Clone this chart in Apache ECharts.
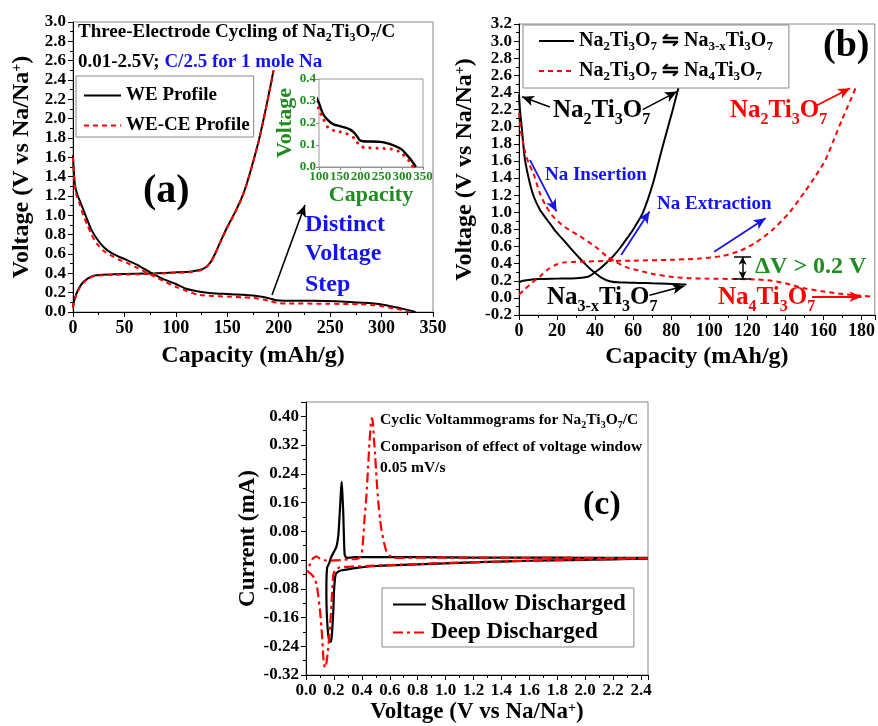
<!DOCTYPE html>
<html>
<head>
<meta charset="utf-8">
<script src="https://cdn.jsdelivr.net/npm/echarts@6/dist/echarts.min.js"></script>
<style>
  html, body { margin: 0; padding: 0; background: #fff; }
  #chart { width: 878px; height: 726px; }
</style>
</head>
<body>
<div id="chart"></div>
<script>
// ---------- (a) three-electrode cycling: WE and WE-CE profiles ----------
const weDisCap = [0, 1, 2, 4, 7, 10, 14, 18, 23, 30, 36, 45, 52, 62, 75, 88, 100, 110, 122, 135, 150, 165, 175, 185, 192, 198, 205, 220, 247, 265, 287, 300, 311, 320, 327, 333];
const weDisV   = [1.62, 1.42, 1.31, 1.22, 1.14, 1.06, 0.95, 0.85, 0.76, 0.67, 0.62, 0.57, 0.54, 0.49, 0.41, 0.34, 0.29, 0.24, 0.212, 0.194, 0.186, 0.178, 0.170, 0.155, 0.138, 0.122, 0.117, 0.116, 0.114, 0.107, 0.092, 0.078, 0.055, 0.035, 0.017, 0.0];
const weChgCap = [0, 1, 3, 6, 10, 15, 20, 28, 40, 60, 80, 100, 115, 125, 130, 134, 138, 143, 150, 157, 164, 169, 175, 181, 187, 192, 195];
const weChgV   = [0.05, 0.11, 0.18, 0.25, 0.31, 0.35, 0.375, 0.385, 0.39, 0.395, 0.40, 0.41, 0.42, 0.44, 0.47, 0.52, 0.60, 0.72, 0.88, 1.02, 1.18, 1.33, 1.55, 1.79, 2.08, 2.34, 2.50];
const wceDisCap = [0, 2, 4, 7, 10, 14, 18, 23, 30, 36, 45, 52, 62, 75, 88, 100, 110, 122, 135, 150, 165, 175, 185, 191, 198, 207, 247, 279, 293, 303, 317, 323, 327];
const wceDisV   = [1.60, 1.27, 1.19, 1.10, 1.00, 0.90, 0.80, 0.71, 0.63, 0.59, 0.54, 0.51, 0.46, 0.39, 0.32, 0.26, 0.22, 0.178, 0.166, 0.160, 0.152, 0.145, 0.130, 0.115, 0.095, 0.089, 0.085, 0.080, 0.070, 0.055, 0.027, 0.010, 0.0];
const wceChgCap = [0, 1, 3, 6, 10, 15, 20, 28, 40, 60, 80, 100, 115, 125, 130, 134, 138, 143, 150, 157, 164, 169, 175, 181, 187, 192, 195];
const wceChgV   = [0.04, 0.10, 0.17, 0.24, 0.30, 0.345, 0.37, 0.38, 0.385, 0.39, 0.395, 0.405, 0.415, 0.435, 0.465, 0.515, 0.595, 0.715, 0.875, 1.015, 1.175, 1.325, 1.545, 1.785, 2.075, 2.335, 2.50];

// ---------- (b) shallow vs. deep sodiation profiles ----------
const shDisCap = [0, 0.5, 1.4, 3.1, 5.8, 8, 11, 13.5, 16.2, 19.5, 23.2, 27.5, 32, 35.5, 38.9, 43, 47.6, 52, 58, 63, 70, 78, 84, 88];
const shDisV   = [2.38, 2.20, 2.00, 1.62, 1.33, 1.17, 1.03, 0.95, 0.87, 0.77, 0.68, 0.57, 0.46, 0.38, 0.31, 0.24, 0.195, 0.182, 0.178, 0.175, 0.170, 0.165, 0.160, 0.155];
const shChgCap = [0, 2, 5, 10, 20, 30, 35, 37.5, 40, 43, 46, 50, 53, 56.3, 60, 65, 70.3, 75.5, 80.7, 84.3];
const shChgV   = [0.18, 0.20, 0.21, 0.22, 0.225, 0.23, 0.24, 0.26, 0.30, 0.35, 0.41, 0.50, 0.58, 0.68, 0.80, 0.99, 1.33, 1.77, 2.19, 2.50];
const dpDisCap = [0, 1, 3, 5, 7.5, 11, 14, 18, 24, 32, 40, 45.9, 51, 56.3, 63, 70.3, 80.7, 90, 98, 115.6, 125, 133, 140, 150.5, 160, 168, 177, 185.4];
const dpDisV   = [2.16, 1.95, 1.72, 1.58, 1.46, 1.22, 1.08, 0.95, 0.83, 0.72, 0.60, 0.49, 0.42, 0.36, 0.32, 0.28, 0.245, 0.23, 0.225, 0.22, 0.215, 0.20, 0.17, 0.11, 0.075, 0.05, 0.03, 0.015];
const dpChgCap = [0, 3, 7, 11, 15, 19.7, 24, 28.4, 35, 45, 60, 80, 95, 107, 116, 124, 133, 141.8, 150.5, 156, 161, 165.5, 169.7, 174, 177.6];
const dpChgV   = [0.04, 0.10, 0.18, 0.25, 0.33, 0.39, 0.415, 0.42, 0.425, 0.43, 0.435, 0.445, 0.46, 0.49, 0.55, 0.64, 0.79, 0.99, 1.25, 1.43, 1.61, 1.85, 2.08, 2.30, 2.49];

// ---------- (c) cyclic voltammograms, 0.05 mV/s ----------
const cvShallowV = [2.45, 2.2, 1.9, 1.6, 1.3, 1.0, 0.8, 0.6, 0.45, 0.363, 0.3, 0.25, 0.232, 0.215, 0.208, 0.2, 0.196, 0.19, 0.184, 0.175, 0.167, 0.16, 0.153, 0.148,
                    0.146, 0.147, 0.152, 0.167, 0.18, 0.196, 0.21, 0.22, 0.232, 0.243, 0.25, 0.255, 0.26, 0.267, 0.272, 0.277, 0.29, 0.35, 0.5, 0.8, 1.2, 1.6, 2.0, 2.45];
const cvShallowI = [0.004, 0.002, 0.0, -0.002, -0.005, -0.009, -0.012, -0.015, -0.018, -0.022, -0.026, -0.029, -0.032, -0.038, -0.05, -0.09, -0.14, -0.18, -0.215, -0.228, -0.226, -0.21, -0.18, -0.14,
                    -0.10, -0.05, -0.02, -0.008, 0.008, 0.02, 0.03, 0.04, 0.07, 0.14, 0.19, 0.218, 0.19, 0.13, 0.06, 0.015, 0.006, 0.008, 0.008, 0.008, 0.007, 0.007, 0.006, 0.006];
const cvDeepV = [2.45, 2.2, 1.9, 1.6, 1.3, 1.0, 0.8, 0.6, 0.45, 0.36, 0.3, 0.243, 0.21, 0.196, 0.19, 0.184, 0.175, 0.165, 0.155, 0.145, 0.136, 0.13, 0.124, 0.115, 0.1, 0.088, 0.076, 0.06, 0.04, 0.02, 0.01,
                 0.03, 0.05, 0.076, 0.1, 0.13, 0.15, 0.2, 0.25, 0.3, 0.363, 0.39, 0.40, 0.41, 0.42, 0.433, 0.445, 0.455, 0.465, 0.472, 0.48, 0.486, 0.494, 0.505, 0.518, 0.53, 0.54, 0.558, 0.576, 0.6, 0.625, 0.7, 0.9, 1.2, 1.6, 2.0, 2.45];
const cvDeepI = [0.005, 0.003, 0.001, -0.002, -0.005, -0.008, -0.011, -0.014, -0.016, -0.018, -0.019, -0.02, -0.028, -0.04, -0.07, -0.11, -0.17, -0.22, -0.26, -0.29, -0.30, -0.29, -0.27, -0.21, -0.14, -0.10, -0.068, -0.05, -0.04, -0.034, -0.03,
                 -0.01, 0.005, 0.01, 0.004, 0.0, -0.002, -0.001, 0.0, 0.002, 0.003, 0.01, 0.02, 0.06, 0.12, 0.18, 0.26, 0.33, 0.38, 0.395, 0.38, 0.34, 0.30, 0.23, 0.16, 0.115, 0.085, 0.05, 0.024, 0.012, 0.006, 0.006, 0.007, 0.007, 0.006, 0.006, 0.005];

// annotation arrows, in data units of each panel: [x0, y0, x1, y1]
const arrowA = [[193.5, 0.176, 225.5, 1.107]];
const arrowsBlackB = [[16.2, 2.23, 1.6, 2.35], [65, 2.2, 83, 2.41], [68.6, 0.03, 86.9, 0.14]];
const arrowsBlueB  = [[5.8, 1.61, 19.7, 1.01], [53.7, 0.50, 68.6, 1.01], [102.6, 0.54, 129.6, 0.93]];
const arrowsRedB   = [[156.6, 2.25, 174, 2.45], [154, 0.014, 180, 0.014]];
const deltaV = { cap: 117.5, low: 0.22, high: 0.48, half: 4.5 };

const FONT = 'Liberation Serif';
const BLUE = '#1414f0';
const RED = '#ff0000';
const GREEN = '#1f8c1f';

const pairs = (xs, ys) => xs.map((x, i) => [x, ys[i]]);

// "Na_{2}Ti_{3}O_{7}" -> rich-text tokens; ^{..} is a superscript
function richText(s, big, sub, sup) {
  let out = '', last = 0, m;
  const re = /([_^])\{([^}]*)\}/g;
  while ((m = re.exec(s))) {
    if (m.index > last) out += '{' + big + '|' + s.slice(last, m.index) + '}';
    out += '{' + (m[1] === '_' ? sub : sup) + '|' + m[2] + '}';
    last = re.lastIndex;
  }
  if (last < s.length) out += '{' + big + '|' + s.slice(last) + '}';
  return out;
}
// rich styles for ECharts labels (color key)
function labelRich(size, small, color, lh) {
  const base = { fontFamily: FONT, fontWeight: 'bold', color: color };
  return {
    b: Object.assign({ fontSize: size, lineHeight: lh }, base),
    s: Object.assign({ fontSize: small, lineHeight: small, verticalAlign: 'bottom' }, base),
    p: Object.assign({ fontSize: small, lineHeight: small, verticalAlign: 'top' }, base)
  };
}
// rich styles for graphic text (fill key)
function gRich(size, small, color, lh) {
  const base = { fontFamily: FONT, fontWeight: 'bold', fill: color };
  return {
    b: Object.assign({ fontSize: size, lineHeight: lh }, base),
    s: Object.assign({ fontSize: small, lineHeight: small, verticalAlign: 'bottom' }, base),
    k: Object.assign({ fontSize: size, lineHeight: lh }, base, { fill: '#000' }),
    u: Object.assign({ fontSize: size, lineHeight: lh }, base, { fill: BLUE })
  };
}
function gText(x, y, s, size, small, color, lh) {
  return {
    type: 'text', x: x, y: y, silent: true, z: 50,
    style: { text: richText(s, 'b', 's', 's'), rich: gRich(size, small, color, lh), align: 'left', verticalAlign: 'top' }
  };
}
function gPlain(x, y, s, size, color) {
  return {
    type: 'text', x: x, y: y, silent: true, z: 50,
    style: { text: s, fontFamily: FONT, fontWeight: 'bold', fontSize: size, fill: color, align: 'left', verticalAlign: 'middle' }
  };
}

function axisBase(labelSize, fmt) {
  return {
    type: 'value',
    axisLine: { show: true, onZero: false, lineStyle: { color: '#000', width: 1 } },
    axisTick: { show: true, inside: false, length: 5, lineStyle: { color: '#000' } },
    minorTick: { show: true, splitNumber: 2, length: 3, lineStyle: { color: '#000' } },
    splitLine: { show: false },
    axisLabel: { fontFamily: FONT, fontWeight: 'bold', fontSize: labelSize, color: '#000', margin: 7, formatter: fmt }
  };
}
const f0 = v => String(Math.round(v));
const f1 = v => (Math.round(v * 10) / 10).toFixed(1);
const f2 = v => (Math.round(v * 100) / 100).toFixed(2);

function arrowLines(list, color, width) {
  return list.map(a => [
    { coord: [a[0], a[1]], symbol: 'none', lineStyle: { color: color, width: width, type: 'solid' } },
    { coord: [a[2], a[3]], symbol: 'arrow' }
  ]);
}
function markArrows(data, size) {
  return { silent: true, animation: false, symbolSize: size, label: { show: false }, emphasis: { disabled: true }, data: data };
}

const voltName = '{t|Voltage (V vs Na/Na}{p|+}{t|)}';
const nameRich = (size) => ({
  t: { fontFamily: FONT, fontWeight: 'bold', fontSize: size, color: '#000' },
  p: { fontFamily: FONT, fontWeight: 'bold', fontSize: Math.round(size * 0.6), color: '#000', verticalAlign: 'top' }
});

const legendNamesB = {
  'shallow': 'Na_{2}Ti_{3}O_{7} \u21CB Na_{3-x}Ti_{3}O_{7}',
  'deep': 'Na_{2}Ti_{3}O_{7} \u21CB Na_{4}Ti_{3}O_{7}'
};

const black = { color: '#000', width: 2 };
const redDash = { color: RED, width: 2, type: [5, 4] };
const redDashDot = { color: RED, width: 2.2, type: [10, 4, 3, 4] };

const lineSeries = (name, xi, data, ls, extra) => Object.assign({
  name: name, type: 'line', xAxisIndex: xi, yAxisIndex: xi, data: data,
  symbol: 'none', showSymbol: false, smooth: 0.25, lineStyle: ls, itemStyle: { color: ls.color },
  clip: true, animation: false, emphasis: { disabled: true }
}, extra || {});

// ΔV bracket in panel (b)
const dvData = [
  [{ coord: [deltaV.cap - deltaV.half, deltaV.high], symbol: 'none', lineStyle: { color: '#000', width: 1.5, type: 'solid' } }, { coord: [deltaV.cap + deltaV.half, deltaV.high], symbol: 'none' }],
  [{ coord: [deltaV.cap - deltaV.half, deltaV.low], symbol: 'none', lineStyle: { color: '#000', width: 1.5, type: 'solid' } }, { coord: [deltaV.cap + deltaV.half, deltaV.low], symbol: 'none' }],
  [{ coord: [deltaV.cap, deltaV.low], symbol: 'arrow', lineStyle: { color: '#000', width: 1.5, type: 'solid' } }, { coord: [deltaV.cap, deltaV.high], symbol: 'arrow' }]
];

// legend entries show the line sample only
const legendBase = {
  orient: 'vertical', selectedMode: false, borderColor: '#888', borderWidth: 1, backgroundColor: '#fff',
  itemStyle: { opacity: 0 }
};

const chart = echarts.init(document.getElementById('chart'), null, { renderer: 'canvas' });

const option = {
  animation: false,
  backgroundColor: '#fff',
  grid: [
    { left: 73, top: 22, width: 360, height: 290, show: true, borderColor: '#888', borderWidth: 1, backgroundColor: 'transparent' },
    { left: 319, top: 79, width: 104, height: 88, show: true, borderColor: '#999', borderWidth: 1, backgroundColor: '#fff', z: 3 },
    { left: 519, top: 24, width: 358, height: 291, show: true, borderColor: '#888', borderWidth: 1, backgroundColor: 'transparent' },
    { left: 306, top: 402, width: 342, height: 273, show: true, borderColor: '#888', borderWidth: 1, backgroundColor: 'transparent' }
  ],
  xAxis: [
    Object.assign(axisBase(18, f0), { gridIndex: 0, min: 0, max: 350, interval: 50,
      name: 'Capacity (mAh/g)', nameLocation: 'middle', nameGap: 32,
      nameTextStyle: { fontFamily: FONT, fontWeight: 'bold', fontSize: 24, color: '#000' } }),
    Object.assign(axisBase(13, f0), { gridIndex: 1, min: 100, max: 350, interval: 50,
      axisLine: { show: true, onZero: false, lineStyle: { color: '#888' } },
      axisTick: { show: true, length: 3, lineStyle: { color: '#888' } }, minorTick: { show: false },
      axisLabel: { fontFamily: FONT, fontWeight: 'bold', fontSize: 13, color: GREEN, margin: 3, formatter: f0 },
      name: 'Capacity', nameLocation: 'middle', nameGap: 14,
      nameTextStyle: { fontFamily: FONT, fontWeight: 'bold', fontSize: 22, color: GREEN } }),
    Object.assign(axisBase(18, f0), { gridIndex: 2, min: 0, max: 187, interval: 20,
      name: 'Capacity (mAh/g)', nameLocation: 'middle', nameGap: 30,
      nameTextStyle: { fontFamily: FONT, fontWeight: 'bold', fontSize: 24, color: '#000' } }),
    Object.assign(axisBase(17, f1), { gridIndex: 3, min: 0, max: 2.45, interval: 0.2,
      name: voltName, nameLocation: 'middle', nameGap: 26,
      nameTextStyle: { rich: nameRich(23) } })
  ],
  yAxis: [
    Object.assign(axisBase(17, f1), { gridIndex: 0, min: 0, max: 3, interval: 0.2,
      name: voltName, nameLocation: 'middle', nameGap: 39,
      nameTextStyle: { rich: nameRich(24) } }),
    Object.assign(axisBase(13, f1), { gridIndex: 1, min: 0, max: 0.4, interval: 0.1,
      axisLine: { show: true, onZero: false, lineStyle: { color: '#888' } },
      axisTick: { show: true, length: 3, lineStyle: { color: '#888' } }, minorTick: { show: false },
      axisLabel: { fontFamily: FONT, fontWeight: 'bold', fontSize: 13, color: GREEN, margin: 3, formatter: f1 },
      name: 'Voltage', nameLocation: 'middle', nameGap: 11,
      nameTextStyle: { fontFamily: FONT, fontWeight: 'bold', fontSize: 22, color: GREEN } }),
    Object.assign(axisBase(17, f1), { gridIndex: 2, min: -0.2, max: 3.2, interval: 0.2,
      name: voltName, nameLocation: 'middle', nameGap: 42,
      nameTextStyle: { rich: nameRich(24) } }),
    Object.assign(axisBase(17, f2), { gridIndex: 3, min: -0.32, max: 0.44, interval: 0.08,
      name: 'Current (mA)', nameLocation: 'middle', nameGap: 43,
      nameTextStyle: { fontFamily: FONT, fontWeight: 'bold', fontSize: 23, color: '#000' } })
  ],
  legend: [
    Object.assign({}, legendBase, { data: ['WE Profile', 'WE-CE Profile'], left: 76, top: 76,
      itemWidth: 37, itemHeight: 12, itemGap: 11, padding: [10, 4, 2, 7],
      textStyle: { fontFamily: FONT, fontWeight: 'bold', fontSize: 19, color: '#000' } }),
    Object.assign({}, legendBase, { data: ['shallow', 'deep'], left: 523, top: 25,
      itemWidth: 35, itemHeight: 12, itemGap: 8, padding: [6, 16, 5, 15],
      formatter: n => richText(legendNamesB[n], 'b', 's', 's'),
      textStyle: { rich: labelRich(20, 13, '#000', 24) } }),
    Object.assign({}, legendBase, { data: ['Shallow Discharged', 'Deep Discharged'], left: 382, top: 588,
      itemWidth: 33, itemHeight: 12, itemGap: 5, padding: [5, 8, 3, 10],
      textStyle: { fontFamily: FONT, fontWeight: 'bold', fontSize: 23, color: '#000' } })
  ],
  series: [
    // (a) main panel
    lineSeries('WE Profile', 0, pairs(weDisCap, weDisV), black, {
      markLine: markArrows(arrowLines(arrowA, '#000', 1.6), [8, 12]) }),
    lineSeries('WE Profile', 0, pairs(weChgCap, weChgV), black),
    lineSeries('WE-CE Profile', 0, pairs(wceDisCap, wceDisV), redDash),
    lineSeries('WE-CE Profile', 0, pairs(wceChgCap, wceChgV), redDash),
    // (a) inset: low-voltage plateau region
    lineSeries('inset WE', 1, pairs(weDisCap, weDisV), { color: '#000', width: 2.4 }, { z: 4 }),
    lineSeries('inset WE-CE', 1, pairs(wceDisCap, wceDisV), { color: RED, width: 3, type: [0.1, 7], cap: 'round' }, { z: 4 }),
    // (b)
    lineSeries('shallow', 2, pairs(shDisCap, shDisV), black, {
      markLine: markArrows(arrowLines(arrowsBlackB, '#000', 1.6)
        .concat(arrowLines(arrowsBlueB, BLUE, 1.8))
        .concat(arrowLines(arrowsRedB, RED, 1.8)), [8, 12]) }),
    lineSeries('shallow', 2, pairs(shChgCap, shChgV), black, {
      markLine: markArrows(dvData, [6, 8]) }),
    lineSeries('deep', 2, pairs(dpDisCap, dpDisV), redDash),
    lineSeries('deep', 2, pairs(dpChgCap, dpChgV), redDash),
    // (c)
    lineSeries('Shallow Discharged', 3, pairs(cvShallowV, cvShallowI), { color: '#000', width: 2.2 }, { smooth: 0.15 }),
    lineSeries('Deep Discharged', 3, pairs(cvDeepV, cvDeepI), redDashDot, { smooth: 0.15 })
  ],
  graphic: [
    // (a)
    {
      type: 'text', x: 78, y: 20, silent: true, z: 50,
      style: { text: richText('Three-Electrode Cycling of Na_{2}Ti_{3}O_{7}/C', 'b', 's', 's'), rich: gRich(19, 12, '#000', 24) }
    },
    {
      type: 'text', x: 78, y: 50, silent: true, z: 50,
      style: { text: '{k|0.01-2.5V; }{u|C/2.5 for 1 mole Na}', rich: gRich(19, 12, '#000', 24) }
    },
    gPlain(143, 192, '(a)', 40, '#000'),
    gPlain(305, 225, 'Distinct', 24, BLUE),
    gPlain(305, 254, 'Voltage', 24, BLUE),
    gPlain(305, 285, 'Step', 24, BLUE),
    // (b)
    gPlain(823, 46, '(b)', 38, '#000'),
    gText(553, 94, 'Na_{2}Ti_{3}O_{7}', 25, 16, '#000', 34),
    gText(547, 281, 'Na_{3-x}Ti_{3}O_{7}', 25, 16, '#000', 34),
    gText(730, 94, 'Na_{2}Ti_{3}O_{7}', 25, 16, RED, 34),
    gText(718, 281, 'Na_{4}Ti_{3}O_{7}', 25, 16, RED, 34),
    gPlain(545, 175, 'Na Insertion', 19, BLUE),
    gPlain(657, 204, 'Na Extraction', 19, BLUE),
    gPlain(755, 267, '\u0394V > 0.2 V', 24, GREEN),
    // (c)
    gText(380, 410, 'Cyclic Voltammograms for Na_{2}Ti_{3}O_{7}/C', 15.5, 10, '#000', 20),
    gPlain(380, 447, 'Comparison of effect of voltage window', 15.5, '#000'),
    gPlain(380, 468, '0.05 mV/s', 15.5, '#000'),
    gPlain(583, 505, '(c)', 34, '#000')
  ]
};

// hide the unlabeled end ticks where max is not a multiple of the interval
option.xAxis[2].axisLabel.showMaxLabel = false;
option.xAxis[3].axisLabel.showMaxLabel = false;
option.yAxis[3].axisLabel.showMaxLabel = false;

chart.setOption(option);
</script>
</body>
</html>
